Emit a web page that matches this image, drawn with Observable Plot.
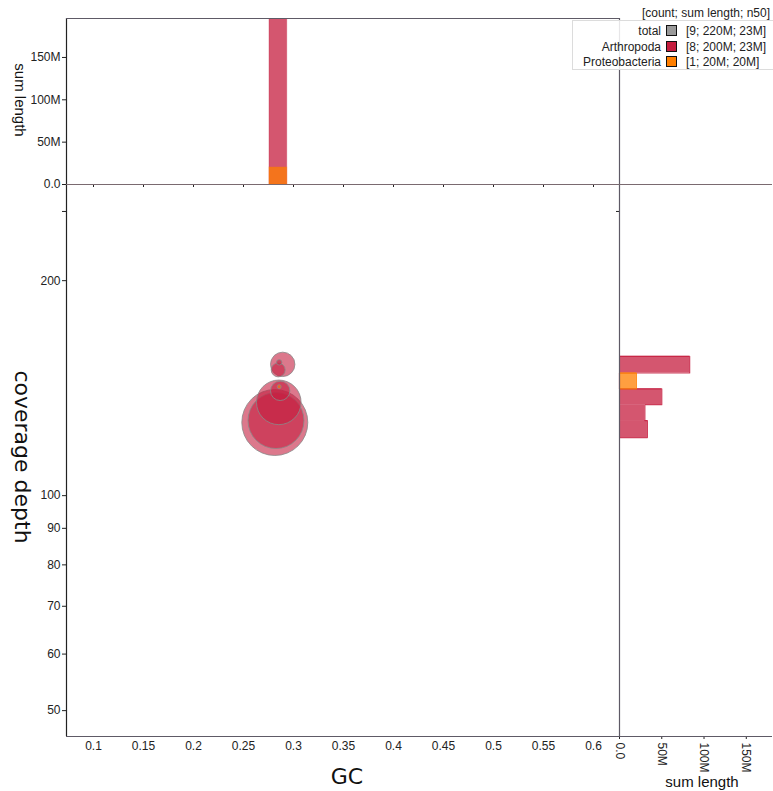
<!DOCTYPE html>
<html>
<head>
<meta charset="utf-8">
<script src="https://cdn.jsdelivr.net/npm/d3@7"></script>
<script src="https://cdn.jsdelivr.net/npm/@observablehq/plot@0.6"></script>
<style>
  html, body { margin: 0; padding: 0; background: #fff; }
  #root { position: relative; width: 773px; height: 791px; overflow: hidden; font-family: "Liberation Sans", Arial, sans-serif; }
  #root svg { position: absolute; background: transparent; overflow: visible; }
  .t { position: absolute; white-space: nowrap; color: #111; }
</style>
</head>
<body>
<div id="root"></div>
<script>
// ---------- data ----------
const taxa = ["Arthropoda", "Proteobacteria"];
const taxonColors = ["#c51e3f", "#ff7f00"];

// bubbles (GC proportion, coverage depth, bubble size)
const bubbleTaxon = ["Arthropoda","Arthropoda","Arthropoda","Arthropoda","Arthropoda","Arthropoda","Arthropoda","Proteobacteria"];
const bubbleGC    = [0.2813, 0.2825, 0.2853, 0.2892, 0.2867, 0.2847, 0.2857, 0.2857];
const bubbleCov   = [126.6, 127.4, 135.1, 152.7, 140.2, 150.0, 153.7, 142.1];
const bubbleSize  = [33.0, 23.75, 15.07, 4.51, 2.85, 1.48, 0.22, 0.12];

// top histogram (GC bins, sum length)
const gcBinLo = [0.276, 0.276];
const gcBinHi = [0.2937, 0.2937];
const gcBinTaxon = ["Arthropoda", "Proteobacteria"];
const gcBinSum = [200e6, 20e6];

// right histogram (coverage bins, sum length)
const covBinLo = [120.6, 127.4, 134.1, 141.1, 148.5, 141.1];
const covBinHi = [127.4, 134.1, 141.1, 148.5, 156.7, 148.5];
const covBinTaxon = ["Arthropoda","Arthropoda","Arthropoda","Arthropoda","Arthropoda","Proteobacteria"];
const covBinSum = [33e6, 30e6, 50e6, 0, 83e6, 20e6];

// axes
const gcDomain = [0.073, 0.626];
const covDomain = [46.0, 272.7];
const gcTicks = [0.1, 0.15, 0.2, 0.25, 0.3, 0.35, 0.4, 0.45, 0.5, 0.55, 0.6];
const covTicks = [50, 60, 70, 80, 90, 100, 200, 250];
const covTickLabels = ["50", "60", "70", "80", "90", "100", "200", ""];
const lenTicks = [0, 50e6, 100e6, 150e6];
const lenTickLabels = ["0.0", "50M", "100M", "150M"];
const topLenMax = 196e6;
const rightLenMax = 181e6;

// legend
const legendHeader = "[count; sum length; n50]";
const legendNames = ["total", "Arthropoda", "Proteobacteria"];
const legendColors = ["#999999", "#c51e3f", "#ff7f00"];
const legendValues = ["[9; 220M; 23M]", "[8; 200M; 23M]", "[1; 20M; 20M]"];

// ---------- build ----------
const bubbles = bubbleGC.map((g, i) => ({gc: g, cov: bubbleCov[i], size: bubbleSize[i], taxon: bubbleTaxon[i]}));
const gcBins = gcBinLo.map((lo, i) => ({lo, hi: gcBinHi[i], taxon: gcBinTaxon[i], sum: gcBinSum[i]}));
const covBins = covBinLo.map((lo, i) => ({lo, hi: covBinHi[i], taxon: covBinTaxon[i], sum: covBinSum[i]}));

// step outline of each taxon's coverage histogram
const covOutline = [];
taxa.forEach(t => {
  const bins = covBins.filter(b => b.taxon === t).sort((a, b) => a.lo - b.lo);
  covOutline.push({taxon: t, v: 0, c: bins[0].lo});
  bins.forEach(b => {
    covOutline.push({taxon: t, v: b.sum, c: b.lo});
    covOutline.push({taxon: t, v: b.sum, c: b.hi});
  });
  covOutline.push({taxon: t, v: 0, c: bins[bins.length - 1].hi});
});

const root = document.getElementById("root");
const lineCol = "#5e5a66";
const baseStyle = {fontFamily: "Liberation Sans, Arial, sans-serif", fontSize: "12px", background: "transparent", color: "#222", overflow: "visible"};
const colorScale = {domain: taxa, range: taxonColors};
const covFmt = d => covTickLabels[covTicks.indexOf(d)];
const lenFmt = d => lenTickLabels[lenTicks.indexOf(d)];

function place(svg, left, topPx) {
  svg.style.left = left + "px";
  svg.style.top = topPx + "px";
  root.appendChild(svg);
}

// main scatter
const mainPlot = Plot.plot({
  width: 622, height: 607,
  marginLeft: 66, marginRight: 3, marginTop: 0, marginBottom: 55,
  style: baseStyle,
  x: {domain: gcDomain, ticks: gcTicks, tickFormat: d => String(d), tickSize: 0, tickPadding: 5, label: null},
  y: {type: "log", domain: covDomain, ticks: covTicks, tickFormat: covFmt, tickSize: 4, tickPadding: 2, label: null},
  r: {type: "sqrt", domain: [0, 33], range: [0, 33]},
  color: colorScale,
  marks: [
    Plot.dot(bubbles, {x: "gc", y: "cov", r: "size", fill: "taxon", fillOpacity: 0.6, stroke: "#8a8a8a", strokeOpacity: 0.8, strokeWidth: 1}),
    Plot.ruleX([gcDomain[0]], {stroke: "#222", strokeWidth: 1.2}),
    Plot.ruleY([covDomain[0]], {stroke: lineCol, strokeWidth: 1.2})
  ]
});
place(mainPlot, 0, 184);

// top histogram
const topPlot = Plot.plot({
  width: 622, height: 190,
  marginLeft: 66, marginRight: 3, marginTop: 18, marginBottom: 6,
  style: baseStyle,
  x: {domain: gcDomain, ticks: gcTicks, tickFormat: () => "", tickSize: 3, label: null},
  y: {domain: [0, topLenMax], ticks: lenTicks, tickFormat: lenFmt, tickSize: 4, tickPadding: 2, label: null},
  color: colorScale,
  marks: [
    Plot.rect(gcBins, {x1: "lo", x2: "hi", y1: 0, y2: "sum", fill: "taxon", fillOpacity: 0.75, stroke: "taxon", strokeOpacity: 0.35, clip: true}),
    Plot.ruleX([gcDomain[0]], {stroke: "#222", strokeWidth: 1.2}),
    Plot.ruleX([gcDomain[1]], {stroke: lineCol, strokeWidth: 1.2}),
    Plot.ruleY([topLenMax], {stroke: lineCol, strokeWidth: 1.2}),
    Plot.ruleY([0], {stroke: "#7a6a70", strokeWidth: 1.2})
  ]
});
place(topPlot, 0, 0);

// right histogram
const rightPlot = Plot.plot({
  width: 173, height: 607,
  marginLeft: 19, marginRight: 1, marginTop: 0, marginBottom: 55,
  style: baseStyle,
  x: {domain: [0, rightLenMax], ticks: lenTicks, tickFormat: lenFmt, tickRotate: 90, tickSize: 3, tickPadding: 3, label: null},
  y: {type: "log", domain: covDomain, ticks: [250], tickFormat: () => "", tickSize: 3, label: null},
  color: colorScale,
  marks: [
    Plot.rect(covBins.filter(b => b.taxon === "Arthropoda"), {x1: 0, x2: "sum", y1: "lo", y2: "hi", fill: "taxon", fillOpacity: 0.75}),
    Plot.line(covOutline.filter(p => p.taxon === "Arthropoda"), {x: "v", y: "c", stroke: "taxon", strokeWidth: 1.2, strokeOpacity: 0.85}),
    Plot.rect(covBins.filter(b => b.taxon === "Proteobacteria"), {x1: 0, x2: "sum", y1: "lo", y2: "hi", fill: "taxon", fillOpacity: 0.75}),
    Plot.line(covOutline.filter(p => p.taxon === "Proteobacteria"), {x: "v", y: "c", stroke: "taxon", strokeWidth: 1.2, strokeOpacity: 0.85}),
    Plot.ruleX([0], {stroke: lineCol, strokeWidth: 1.2}),
    Plot.ruleY([covDomain[1]], {stroke: "#7a6a70", strokeWidth: 1.2}),
    Plot.ruleY([covDomain[0]], {stroke: lineCol, strokeWidth: 1.2})
  ]
});
place(rightPlot, 600, 184);

// axis titles
function text(str, cx, cy, size, family, rotate) {
  const d = document.createElement("div");
  d.className = "t";
  d.textContent = str;
  d.style.left = cx + "px";
  d.style.top = cy + "px";
  d.style.fontSize = size + "px";
  d.style.fontFamily = family;
  d.style.transform = "translate(-50%,-50%)" + (rotate ? " rotate(" + rotate + "deg)" : "");
  root.appendChild(d);
  return d;
}
text("coverage depth", 22, 457, 22, "DejaVu Sans", 90);
text("GC", 347, 776, 22, "DejaVu Sans", 0);
text("sum length", 20, 100, 15, "Liberation Sans", 90);
text("sum length", 702, 781, 15, "Liberation Sans", 0);

// legend
const box = document.createElement("div");
box.style.cssText = "position:absolute;left:572px;top:20px;width:205px;height:48px;background:rgba(255,255,255,0.85);border:1px solid #dcdcdc;";
root.appendChild(box);
const hdr = document.createElement("div");
hdr.className = "t";
hdr.textContent = legendHeader;
hdr.style.cssText += "right:3px;top:6px;font-size:12px;line-height:14px;color:#222;";
root.appendChild(hdr);
legendNames.forEach((name, i) => {
  const cy = 31 + i * 15.5;
  const lab = document.createElement("div");
  lab.className = "t";
  lab.textContent = name;
  lab.style.cssText += `right:${773 - 661}px;top:${cy - 7}px;font-size:12px;line-height:14px;color:#222;`;
  root.appendChild(lab);
  const sw = document.createElement("div");
  sw.style.cssText = `position:absolute;left:666px;top:${cy - 6}px;width:9px;height:9px;background:${legendColors[i]};border:1.5px solid #111;`;
  root.appendChild(sw);
  const val = document.createElement("div");
  val.className = "t";
  val.textContent = legendValues[i];
  val.style.cssText += `left:686px;top:${cy - 7}px;font-size:12px;line-height:14px;color:#222;`;
  root.appendChild(val);
});
</script>
</body>
</html>
